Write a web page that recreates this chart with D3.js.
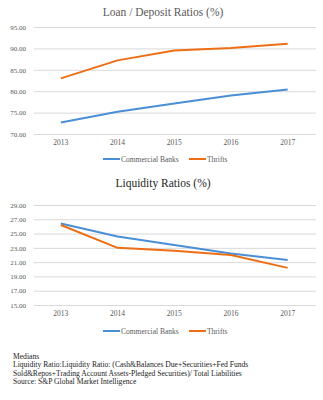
<!DOCTYPE html>
<html>
<head>
<meta charset="utf-8">
<script src="https://cdn.jsdelivr.net/npm/d3@7"></script>
<style>
  html, body { margin: 0; padding: 0; background: #fff; }
  svg { display: block; }
</style>
</head>
<body>
<svg id="chart" width="323" height="400"></svg>
<script>
const years = ["2013", "2014", "2015", "2016", "2017"];
const seriesNames = ["Commercial Banks", "Thrifts"];
const loanBanks = [72.7, 75.2, 77.1, 79.0, 80.4];
const loanThrifts = [83.0, 87.2, 89.5, 90.1, 91.1];
const liqBanks = [26.4, 24.6, 23.4, 22.2, 21.3];
const liqThrifts = [26.2, 23.0, 22.6, 22.0, 20.2];
const loanTicks = [70, 75, 80, 85, 90, 95];
const liqTicks = [15, 17, 19, 21, 23, 25, 27, 29];
const titles = ["Loan / Deposit Ratios (%)", "Liquidity Ratios (%)"];
const footer = [
  "Medians",
  "Liquidity Ratio:Liquidity Ratio: (Cash&Balances Due+Securities+Fed Funds",
  "Sold&Repos+Trading Account Assets-Pledged Securities)/ Total Liabilities",
  "Source: S&P Global Market Intelligence"
];
const colors = ["#4A8FD6", "#EE6E16"];
const SERIF = "'Liberation Serif', 'Times New Roman', serif";

const svg = d3.select("#chart").attr("font-family", SERIF);
const x = d3.scaleBand().domain(years).range([32.5, 316]).padding(0);
const xc = d => x(d) + x.bandwidth() / 2;

function drawChart(cfg) {
  const g = svg.append("g");
  const y = d3.scaleLinear().domain(cfg.domain).range(cfg.range);

  g.append("text")
    .attr("x", 163).attr("y", cfg.titleY)
    .attr("text-anchor", "middle")
    .attr("font-family", SERIF)
    .attr("font-size", "11.5px")
    .attr("fill", cfg.titleColor)
    .text(cfg.title);

  const ya = d3.axisLeft(y).tickValues(cfg.ticks).tickFormat(d3.format(".2f"))
    .tickSize(-(316 - 34)).tickPadding(8);
  const axG = g.append("g").attr("transform", "translate(34,0)").call(ya)
    .attr("font-family", SERIF);
  axG.select(".domain").remove();
  axG.selectAll(".tick line").attr("stroke", "#d9d9d9").attr("stroke-width", 1);
  axG.selectAll(".tick text").attr("font-size", "7px").attr("fill", "#595959");

  const xa = d3.axisBottom(x).tickSize(0).tickPadding(6);
  const xG = g.append("g").attr("transform", `translate(0,${cfg.range[0]})`).call(xa)
    .attr("font-family", SERIF);
  xG.select(".domain").remove();
  xG.selectAll(".tick text").attr("font-size", "7.5px").attr("fill", "#595959");

  const line = d3.line().x((d, i) => xc(years[i])).y(d => y(d));
  cfg.series.forEach((s, i) => {
    g.append("path").datum(s)
      .attr("fill", "none")
      .attr("stroke", colors[i])
      .attr("stroke-width", 2)
      .attr("stroke-linejoin", "round")
      .attr("d", line);
  });

  const lx = [103, 189];
  const lg = g.append("g").attr("transform", `translate(0,${cfg.legendY})`);
  seriesNames.forEach((n, i) => {
    lg.append("line").attr("x1", lx[i]).attr("x2", lx[i] + 17)
      .attr("y1", 0).attr("y2", 0)
      .attr("stroke", colors[i]).attr("stroke-width", 2);
    lg.append("text").attr("x", lx[i] + 18).attr("y", 2.5)
      .attr("font-family", SERIF)
      .attr("font-size", "7.5px").attr("fill", "#595959").text(n);
  });
}

drawChart({ title: titles[0], titleY: 16, titleColor: "#595959", domain: [70, 95], range: [134, 27],
  ticks: loanTicks, series: [loanBanks, loanThrifts], legendY: 159 });
drawChart({ title: titles[1], titleY: 187, titleColor: "#262626", domain: [15, 29], range: [305, 205],
  ticks: liqTicks, series: [liqBanks, liqThrifts], legendY: 331 });

svg.append("g").selectAll("text").data(footer).join("text")
  .attr("x", 13).attr("y", (d, i) => 359 + i * 8.4)
  .attr("font-family", SERIF)
  .attr("font-size", "7.6px").attr("fill", "#222")
  .text(d => d);
</script>
</body>
</html>
